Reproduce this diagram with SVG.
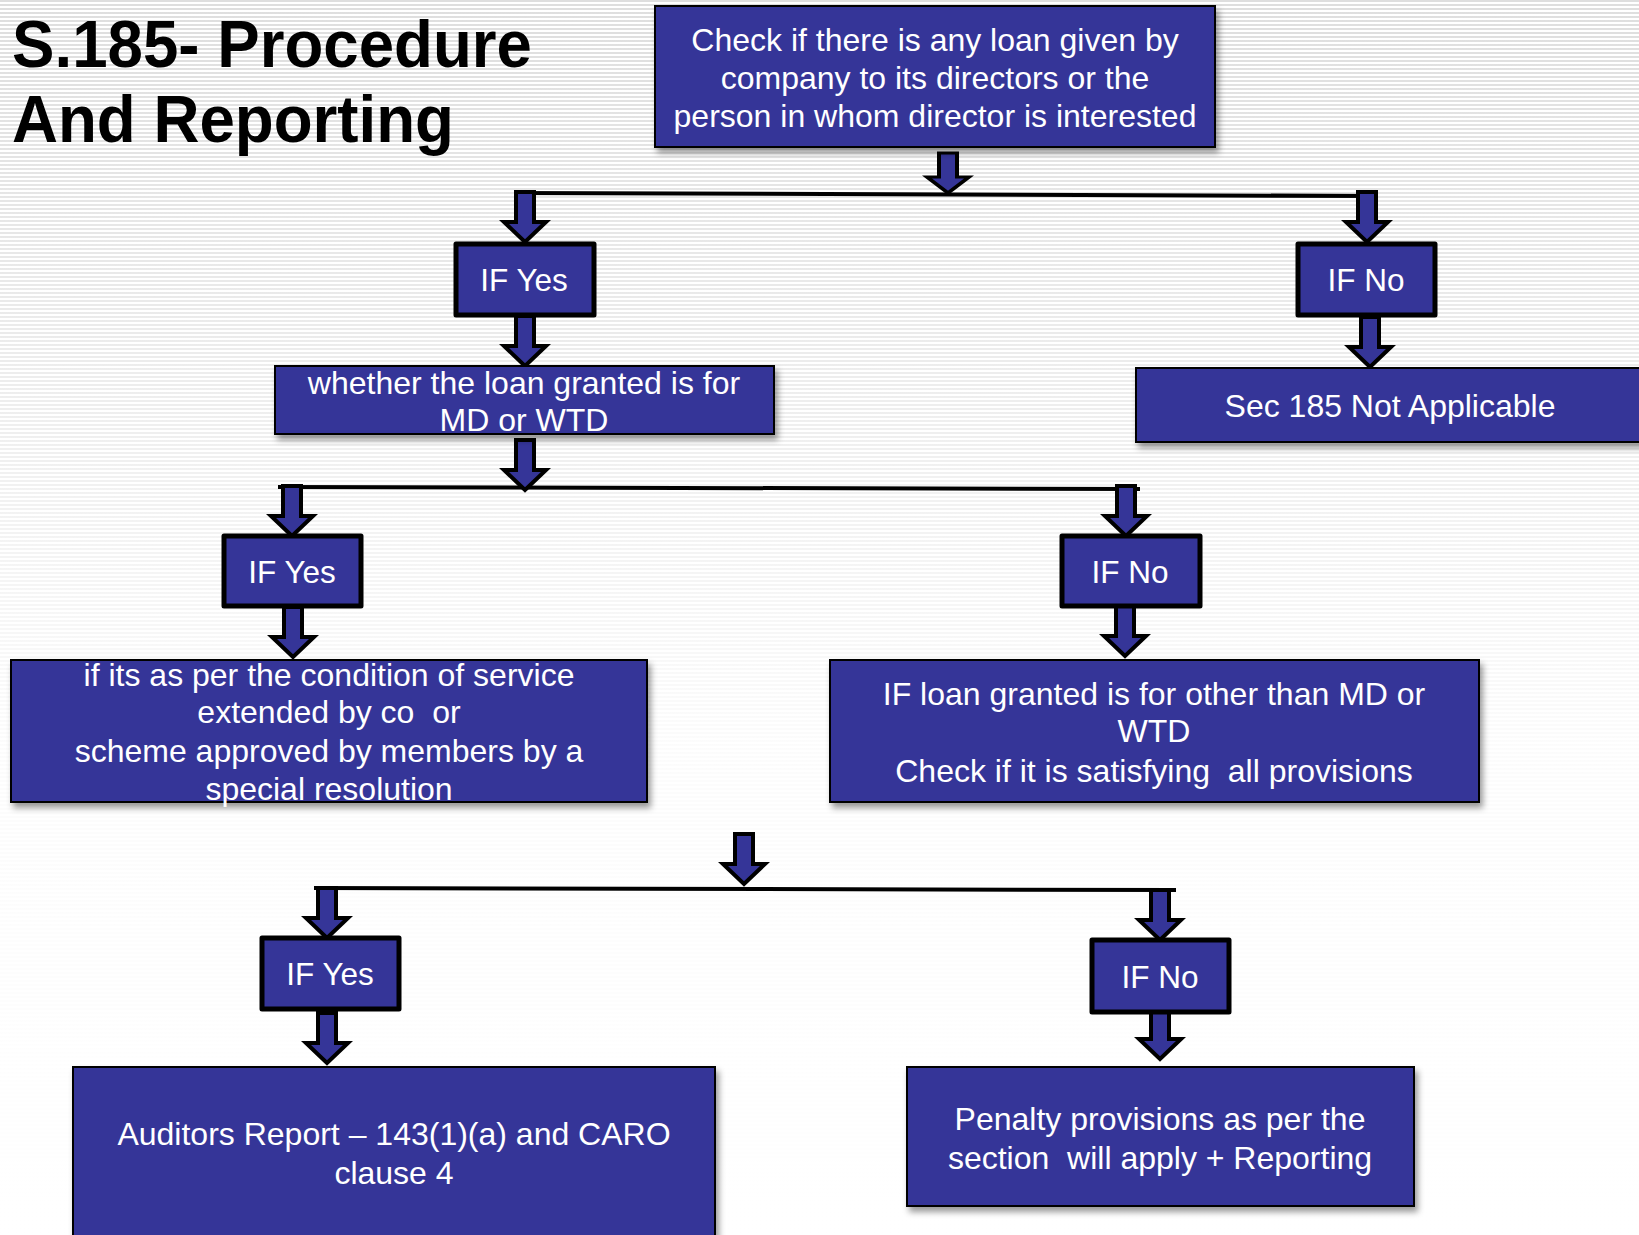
<svg xmlns="http://www.w3.org/2000/svg" width="1639" height="1235" viewBox="0 0 1639 1235">
  <defs>
    <pattern id="stripes" width="8" height="4" patternUnits="userSpaceOnUse">
      <rect width="8" height="4" fill="#ffffff"/>
      <rect y="0" width="8" height="2" fill="#dedede"/>
    </pattern>
    <linearGradient id="fade" x1="0" y1="0" x2="0" y2="1235" gradientUnits="userSpaceOnUse">
      <stop offset="0" stop-color="#fff" stop-opacity="0"/>
      <stop offset="0.3" stop-color="#fff" stop-opacity="0.45"/>
      <stop offset="0.6" stop-color="#fff" stop-opacity="0.9"/>
      <stop offset="1" stop-color="#fff" stop-opacity="1"/>
    </linearGradient>
    <filter id="shadow" x="-5%" y="-5%" width="115%" height="125%">
      <feDropShadow dx="3" dy="5" stdDeviation="3" flood-color="#000" flood-opacity="0.4"/>
    </filter>
    <!-- block arrow, tip at origin, pointing down -->
    <path id="arrow" d="M-9,-50 H9 V-20 H21 L0,0 L-21,-20 H-9 Z"/>
  </defs>
  <style>
    .box { fill: #353598; stroke: #000; stroke-width: 2; filter: url(#shadow); }
    .ifbox { fill: #353598; stroke: #000; stroke-width: 5; stroke-linejoin: round; }
    .arr { fill: #353598; stroke: #000; stroke-width: 4; stroke-linejoin: miter; }
    .line { fill: none; stroke: #000; stroke-width: 4; }
    .t { font-family: "Liberation Sans", Arial, sans-serif; font-size: 32px; fill: #fff; text-anchor: middle; white-space: pre; }
    .ift { font-family: "Liberation Sans", Arial, sans-serif; font-size: 31.5px; fill: #fff; text-anchor: middle; }
    .title { font-family: "Liberation Sans", Arial, sans-serif; font-size: 66px; font-weight: bold; fill: #000; }
  </style>

  <!-- background -->
  <rect width="1639" height="1235" fill="url(#stripes)"/>
  <rect width="1639" height="1235" fill="url(#fade)"/>

  <!-- heading -->
  <g id="title">
    <text class="title" x="12" y="67" textLength="520" lengthAdjust="spacingAndGlyphs">S.185- Procedure</text>
    <text class="title" x="12" y="142" textLength="442" lengthAdjust="spacingAndGlyphs">And Reporting</text>
  </g>

  <!-- connectors -->
  <g id="connectors">
    <path class="line" d="M514,193 L1378,196"/>
    <path class="line" d="M278,487 L1140,489"/>
    <path class="line" d="M314,888 L1176,890"/>
    <use href="#arrow" class="arr" transform="translate(948,193) scale(1,0.8)"/>
    <use href="#arrow" class="arr" transform="translate(525,242)"/>
    <use href="#arrow" class="arr" transform="translate(1367,242)"/>
    <use href="#arrow" class="arr" transform="translate(525,366)"/>
    <use href="#arrow" class="arr" transform="translate(1370,367)"/>
    <use href="#arrow" class="arr" transform="translate(525,490)"/>
    <use href="#arrow" class="arr" transform="translate(292,536)"/>
    <use href="#arrow" class="arr" transform="translate(1126,536)"/>
    <use href="#arrow" class="arr" transform="translate(293,657)"/>
    <use href="#arrow" class="arr" transform="translate(1125,656)"/>
    <use href="#arrow" class="arr" transform="translate(744,884)"/>
    <use href="#arrow" class="arr" transform="translate(327,938)"/>
    <use href="#arrow" class="arr" transform="translate(1160,940)"/>
    <use href="#arrow" class="arr" transform="translate(327,1063)"/>
    <use href="#arrow" class="arr" transform="translate(1160,1059)"/>
  </g>

  <!-- nodes -->
  <g id="check-loan">
    <rect class="box" x="655" y="6" width="560" height="141"/>
    <text class="t" x="935" y="51">Check if there is any loan given by</text>
    <text class="t" x="935" y="89">company to its directors or the</text>
    <text class="t" x="935" y="127">person in whom director is interested</text>
  </g>

  <g id="if-yes-1">
    <rect class="ifbox" x="456" y="244" width="138" height="71"/>
    <text class="ift" x="524" y="291">IF Yes</text>
  </g>

  <g id="if-no-1">
    <rect class="ifbox" x="1298" y="244" width="137" height="71"/>
    <text class="ift" x="1366" y="291">IF No</text>
  </g>

  <g id="md-wtd">
    <rect class="box" x="275" y="366" width="499" height="68"/>
    <text class="t" x="524" y="394">whether the loan granted is for</text>
    <text class="t" x="524" y="431">MD or WTD</text>
  </g>

  <g id="not-applicable">
    <rect class="box" x="1136" y="368" width="520" height="74"/>
    <text class="t" x="1390" y="417">Sec 185 Not Applicable</text>
  </g>

  <g id="if-yes-2">
    <rect class="ifbox" x="224" y="536" width="137" height="70"/>
    <text class="ift" x="292" y="583">IF Yes</text>
  </g>

  <g id="if-no-2">
    <rect class="ifbox" x="1062" y="536" width="138" height="70"/>
    <text class="ift" x="1130" y="583">IF No</text>
  </g>

  <g id="service-condition">
    <rect class="box" x="11" y="660" width="636" height="142"/>
    <text class="t" x="329" y="686">if its as per the condition of service</text>
    <text class="t" x="329" y="723">extended by co  or</text>
    <text class="t" x="329" y="762">scheme approved by members by a</text>
    <text class="t" x="329" y="800">special resolution</text>
  </g>

  <g id="other-than-md">
    <rect class="box" x="830" y="660" width="649" height="142"/>
    <text class="t" x="1154" y="705">IF loan granted is for other than MD or</text>
    <text class="t" x="1154" y="742">WTD</text>
    <text class="t" x="1154" y="782">Check if it is satisfying  all provisions</text>
  </g>

  <g id="if-yes-3">
    <rect class="ifbox" x="262" y="938" width="137" height="71"/>
    <text class="ift" x="330" y="985">IF Yes</text>
  </g>

  <g id="if-no-3">
    <rect class="ifbox" x="1092" y="940" width="137" height="72"/>
    <text class="ift" x="1160" y="988">IF No</text>
  </g>

  <g id="auditors-report">
    <rect class="box" x="73" y="1067" width="642" height="190"/>
    <text class="t" x="394" y="1145">Auditors Report – 143(1)(a) and CARO</text>
    <text class="t" x="394" y="1184">clause 4</text>
  </g>

  <g id="penalty">
    <rect class="box" x="907" y="1067" width="507" height="139"/>
    <text class="t" x="1160" y="1130">Penalty provisions as per the</text>
    <text class="t" x="1160" y="1169">section  will apply + Reporting</text>
  </g>
</svg>
